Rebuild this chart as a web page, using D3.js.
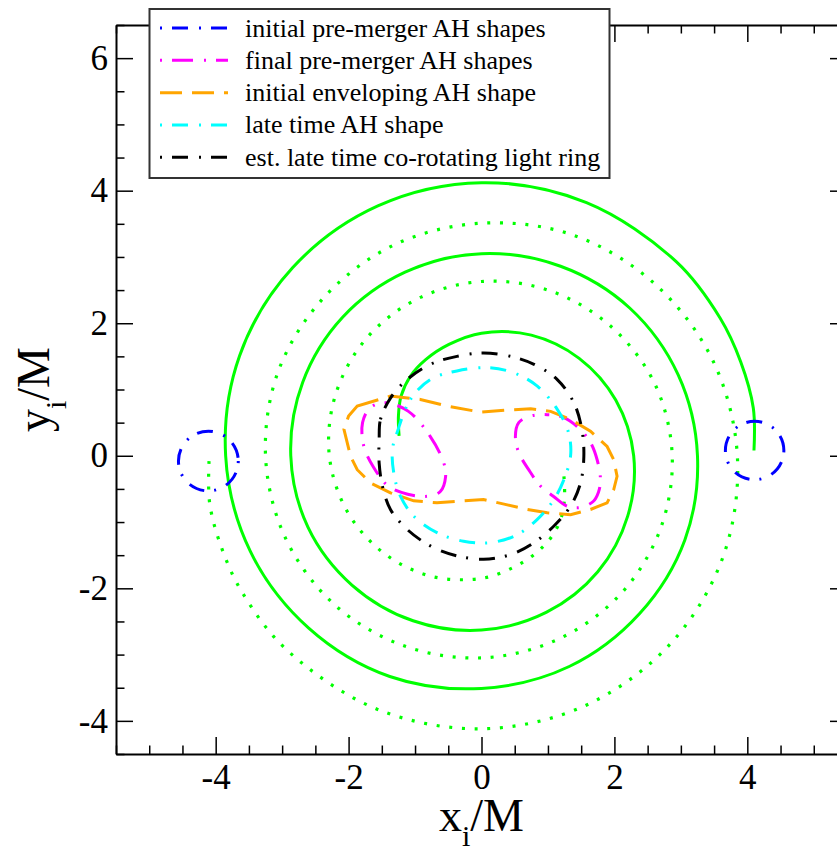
<!DOCTYPE html>
<html>
<head>
<meta charset="utf-8">
<script src="https://cdn.jsdelivr.net/npm/d3@7"></script>
<style>
  html, body { margin: 0; padding: 0; background: #fff; }
  svg { display: block; font-family: "Liberation Serif", "Times New Roman", serif; }
</style>
</head>
<body>
<svg id="chart" width="837" height="853"></svg>
<script>
// ---------------- data ----------------
const xMajorTicks = [-4, -2, 0, 2, 4];
const yMajorTicks = [-4, -2, 0, 2, 4, 6];
const xDomain = [-5.5, 5.5];
const yDomain = [-4.5, 6.5];

// trajectory of black hole 1 (solid green)
const trackSolid = [
  [4.10,0.08],[4.09,0.72],[3.90,1.42],[3.59,2.08],[2.93,2.93],[1.58,3.82],[0.00,4.12],
  [-1.56,3.77],[-2.84,2.84],[-3.64,1.51],[-3.85,0.00],[-3.48,-1.44],[-2.60,-2.60],
  [-1.38,-3.33],[0.00,-3.51],[1.32,-3.18],[2.38,-2.38],[3.06,-1.27],[3.25,0.00],
  [2.96,1.22],[2.23,2.23],[1.19,2.86],[0.00,3.05],[-1.15,2.77],[-2.09,2.09],
  [-2.69,1.11],[-2.87,0.00],[-2.61,-1.08],[-1.95,-1.95],[-1.03,-2.49],[0.00,-2.63],
  [0.98,-2.36],[1.75,-1.75],[2.20,-0.91],[2.29,0.00],[2.02,0.84],[1.47,1.47],
  [0.75,1.82],[0.00,1.85],[-0.49,1.68],[-0.84,1.45],[-1.07,1.20],[-1.21,0.90],
  [-1.25,0.60],[-1.24,0.30]
];
// trajectory of black hole 2 (dotted green)
const trackDotted = [
  [-4.10,-0.08],[-4.09,-0.72],[-3.90,-1.42],[-3.59,-2.08],[-2.93,-2.93],[-1.58,-3.82],[0.00,-4.12],
  [1.56,-3.77],[2.84,-2.84],[3.64,-1.51],[3.85,0.00],[3.48,1.44],[2.60,2.60],
  [1.38,3.33],[0.00,3.51],[-1.32,3.18],[-2.38,2.38],[-3.06,1.27],[-3.25,0.00],
  [-2.96,-1.22],[-2.23,-2.23],[-1.19,-2.86],[0.00,-3.05],[1.15,-2.77],[2.09,-2.09],
  [2.69,-1.11],[2.87,0.00],[2.61,1.08],[1.95,1.95],[1.03,2.49],[0.00,2.63],
  [-0.98,2.36],[-1.75,1.75],[-2.20,0.91],[-2.29,0.00],[-2.02,-0.84],[-1.47,-1.47],
  [-0.75,-1.82],[0.00,-1.85],[0.49,-1.68],[0.84,-1.45],[1.07,-1.20],[1.21,-0.90],
  [1.25,-0.60],[1.24,-0.30]
];

// initial pre-merger AH shapes: centre x, centre y, radius
const initialAH = [
  { cx: -4.11, cy: -0.08, r: 0.45 },
  { cx: 4.11, cy: 0.08, r: 0.44 }
];

// final pre-merger AH shapes
const finalAHLeft = [
  [-1.67,0.73],[-1.44,0.80],[-1.10,0.67],[-0.77,0.29],[-0.57,-0.10],[-0.54,-0.31],
  [-0.62,-0.54],[-0.81,-0.61],[-1.11,-0.58],[-1.40,-0.46],[-1.62,-0.18],[-1.77,0.14],[-1.79,0.50]
];
const finalAHRight = [
  [0.74,0.60],[0.99,0.62],[1.23,0.58],[1.44,0.44],[1.64,0.20],[1.74,-0.06],[1.79,-0.36],
  [1.76,-0.55],[1.68,-0.69],[1.49,-0.78],[1.29,-0.76],[1.08,-0.61],[0.89,-0.46],
  [0.71,-0.21],[0.56,0.05],[0.51,0.29],[0.56,0.50]
];

// initial enveloping AH shape
const envelopAH = [
  [-1.87,0.75],[-1.37,0.90],[-0.92,0.85],[-0.52,0.75],[-0.02,0.66],[0.39,0.69],[0.74,0.71],
  [1.04,0.67],[1.34,0.55],[1.64,0.37],[1.89,0.14],[1.99,-0.06],[2.04,-0.31],[1.99,-0.51],
  [1.89,-0.71],[1.64,-0.81],[1.34,-0.89],[0.99,-0.86],[0.69,-0.81],[0.34,-0.73],
  [0.03,-0.66],[-0.27,-0.68],[-0.67,-0.71],[-1.02,-0.68],[-1.37,-0.56],[-1.67,-0.41],
  [-1.87,-0.21],[-1.97,-0.01],[-2.07,0.40],[-2.00,0.60]
];

// late time AH shape
const lateAH = [
  [-1.27,0.35],[-1.07,0.85],[-0.77,1.15],[-0.37,1.28],[0.09,1.33],[0.49,1.25],[0.84,1.05],
  [1.14,0.70],[1.31,0.35],[1.34,-0.01],[1.24,-0.36],[1.09,-0.66],[0.84,-0.96],[0.54,-1.19],
  [0.14,-1.31],[-0.27,-1.29],[-0.67,-1.16],[-1.02,-0.91],[-1.22,-0.61],[-1.32,-0.26],[-1.34,0.10]
];

// estimated late time co-rotating light ring
const lightRing = [
  [-1.54,0.25],[-1.52,0.55],[-1.37,0.87],[-1.12,1.15],[-0.77,1.38],[-0.37,1.50],[0.03,1.55],
  [0.44,1.50],[0.79,1.38],[1.14,1.15],[1.39,0.80],[1.51,0.40],[1.54,-0.01],[1.49,-0.41],
  [1.34,-0.76],[1.09,-1.06],[0.79,-1.31],[0.44,-1.49],[0.03,-1.56],[-0.37,-1.51],
  [-0.77,-1.36],[-1.12,-1.11],[-1.37,-0.81],[-1.49,-0.46],[-1.54,-0.11]
];

const legendLabels = [
  "initial pre-merger AH shapes",
  "final pre-merger AH shapes",
  "initial enveloping AH shape",
  "late time AH shape",
  "est. late time co-rotating light ring"
];
const legendColors = ["#0000ff", "#ff00ff", "#ffa500", "#00ffff", "#000000"];
const legendDashes = ["2,10,16,11", "2,10,21,11", "22,10", "2,10,16,11", "2,10,16,11"];

// ---------------- drawing ----------------
const svg = d3.select("#chart");
const pL = 116, pR = 847, pT = 25, pB = 754;
const x = d3.scaleLinear().domain(xDomain).range([pL, pR]);
const y = d3.scaleLinear().domain(yDomain).range([pB, pT]);

const minorX = d3.range(-5.5, 5.51, 0.5).filter(v => !xMajorTicks.includes(v));
const minorY = d3.range(-4.5, 6.51, 0.5).filter(v => !yMajorTicks.includes(v));

const plot = svg.append("g");

const lineOpen = d3.line().x(d => x(d[0])).y(d => y(d[1])).curve(d3.curveCatmullRom.alpha(0.5));
const lineClosed = d3.line().x(d => x(d[0])).y(d => y(d[1])).curve(d3.curveCatmullRomClosed.alpha(0.5));
const lineLinClosed = d3.line().x(d => x(d[0])).y(d => y(d[1])).curve(d3.curveLinearClosed);

// green trajectories
plot.append("path").attr("d", lineOpen(trackDotted))
  .attr("fill", "none").attr("stroke", "#00ff00").attr("stroke-width", 3.2)
  .attr("stroke-dasharray", "3,9.7");
plot.append("path").attr("d", lineOpen(trackSolid))
  .attr("fill", "none").attr("stroke", "#00ff00").attr("stroke-width", 3);

// initial AH (blue)
plot.selectAll("ellipse.initAH").data(initialAH).enter().append("ellipse")
  .attr("class", "initAH")
  .attr("cx", d => x(d.cx)).attr("cy", d => y(d.cy))
  .attr("rx", d => x(d.r) - x(0)).attr("ry", d => y(0) - y(d.r))
  .attr("fill", "none").attr("stroke", legendColors[0]).attr("stroke-width", 3)
  .attr("stroke-dasharray", legendDashes[0]);

// final pre-merger AH (magenta)
[finalAHLeft, finalAHRight].forEach(s => {
  plot.append("path").attr("d", lineClosed(s))
    .attr("fill", "none").attr("stroke", legendColors[1]).attr("stroke-width", 3)
    .attr("stroke-dasharray", legendDashes[1]);
});

// enveloping AH (orange)
plot.append("path").attr("d", lineLinClosed(envelopAH))
  .attr("fill", "none").attr("stroke", legendColors[2]).attr("stroke-width", 3)
  .attr("stroke-dasharray", legendDashes[2]);

// late time AH (cyan)
plot.append("path").attr("d", lineClosed(lateAH))
  .attr("fill", "none").attr("stroke", legendColors[3]).attr("stroke-width", 3)
  .attr("stroke-dasharray", legendDashes[3]);

// light ring (black)
plot.append("path").attr("d", lineClosed(lightRing))
  .attr("fill", "none").attr("stroke", legendColors[4]).attr("stroke-width", 3)
  .attr("stroke-dasharray", legendDashes[4]);

// ---------------- axes ----------------
const fmt = d => String(d);
function styleAxis(g) {
  g.select(".domain").attr("stroke", "#000").attr("stroke-width", 2);
  g.selectAll(".tick line").attr("stroke", "#000").attr("stroke-width", 1.5);
  g.selectAll("text").attr("font-family", "Liberation Serif").attr("font-size", 35).attr("fill", "#000");
}
// bottom
const gB = svg.append("g").attr("transform", `translate(0,${pB})`);
gB.call(d3.axisBottom(x).tickValues(xMajorTicks).tickSize(-17).tickSizeOuter(0).tickPadding(10).tickFormat(fmt));
gB.append("g").call(d3.axisBottom(x).tickValues(minorX).tickSize(-8.5).tickSizeOuter(0).tickFormat(""))
  .call(g => g.select(".domain").remove());
styleAxis(gB);
gB.selectAll("text").attr("dy", "0.71em");
// top
const gT = svg.append("g").attr("transform", `translate(0,${pT})`);
gT.call(d3.axisTop(x).tickValues(xMajorTicks).tickSize(-17).tickSizeOuter(0).tickFormat(""));
gT.append("g").call(d3.axisTop(x).tickValues(minorX).tickSize(-8.5).tickSizeOuter(0).tickFormat(""))
  .call(g => g.select(".domain").remove());
styleAxis(gT);
// left
const gL = svg.append("g").attr("transform", `translate(${pL},0)`);
gL.call(d3.axisLeft(y).tickValues(yMajorTicks).tickSize(-17).tickSizeOuter(0).tickPadding(8).tickFormat(fmt));
gL.append("g").call(d3.axisLeft(y).tickValues(minorY).tickSize(-8.5).tickSizeOuter(0).tickFormat(""))
  .call(g => g.select(".domain").remove());
styleAxis(gL);
// right
const gR = svg.append("g").attr("transform", `translate(${pR},0)`);
gR.call(d3.axisRight(y).tickValues(yMajorTicks).tickSize(-17).tickSizeOuter(0).tickFormat(""));
gR.append("g").call(d3.axisRight(y).tickValues(minorY).tickSize(-8.5).tickSizeOuter(0).tickFormat(""))
  .call(g => g.select(".domain").remove());
styleAxis(gR);

// axis titles
const xt = svg.append("text").attr("x", (pL + pR) / 2).attr("y", 831)
  .attr("text-anchor", "middle").attr("font-size", 46).attr("fill", "#000");
xt.append("tspan").text("x");
xt.append("tspan").attr("font-size", 30).attr("dy", 15).text("i");
xt.append("tspan").attr("dy", -15).text("/M");

const yt = svg.append("text").attr("transform", `translate(49,${(pT + pB) / 2}) rotate(-90)`)
  .attr("text-anchor", "middle").attr("font-size", 46).attr("fill", "#000");
yt.append("tspan").text("y");
yt.append("tspan").attr("font-size", 30).attr("dy", 17).text("i");
yt.append("tspan").attr("dy", -17).text("/M");

// ---------------- legend ----------------
const lg = svg.append("g");
lg.append("rect").attr("x", 149.5).attr("y", 9).attr("width", 460).attr("height", 169)
  .attr("fill", "#fff").attr("stroke", "#333").attr("stroke-width", 2);
const rowY = d3.scalePoint().domain(d3.range(legendLabels.length)).range([28, 157.3]);
legendLabels.forEach((lab, i) => {
  const yy = rowY(i);
  lg.append("line").attr("x1", 160).attr("x2", 228).attr("y1", yy).attr("y2", yy)
    .attr("stroke", legendColors[i]).attr("stroke-width", 3).attr("stroke-dasharray", legendDashes[i]);
  lg.append("text").attr("x", 245).attr("y", yy + 8.5).attr("font-size", 26).attr("fill", "#000").text(lab);
});
</script>
</body>
</html>
